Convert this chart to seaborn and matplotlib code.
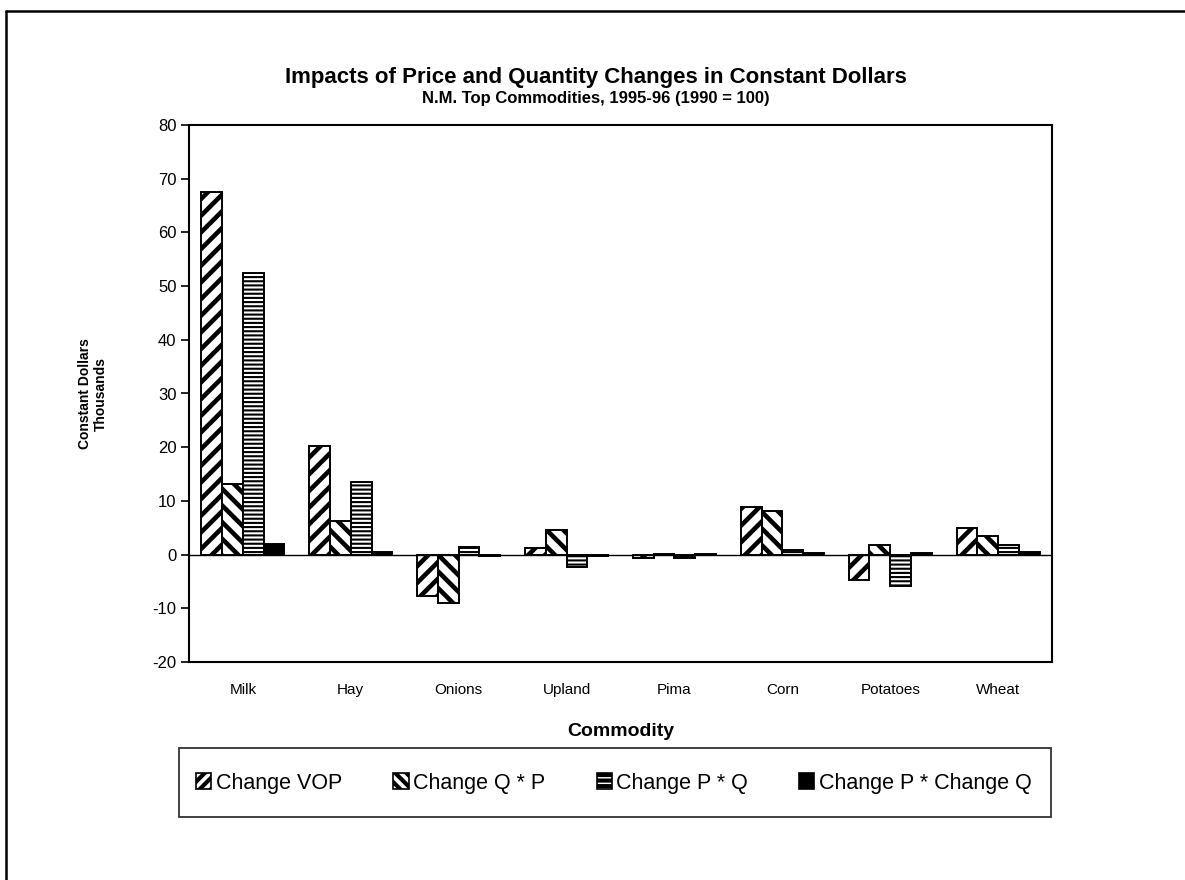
import matplotlib
matplotlib.use("Agg")
import matplotlib.pyplot as plt
import seaborn as sns
import pandas as pd
from matplotlib.patches import Patch, Rectangle
from matplotlib.lines import Line2D

commodities = ["Milk", "Hay", "Onions", "Upland", "Pima", "Corn", "Potatoes", "Wheat"]
series_names = ["Change VOP", "Change Q * P", "Change P * Q", "Change P * Change Q"]
change_vop = [67.5, 20.2, -7.8, 1.2, -0.7, 8.8, -4.8, 4.9]
change_qp = [13.1, 6.2, -9.1, 4.5, 0.1, 8.1, 1.8, 3.4]
change_pq = [52.5, 13.6, 1.5, -2.4, -0.7, 0.8, -5.8, 1.7]
change_pcq = [2.0, 0.4, -0.3, -0.3, 0.05, 0.3, 0.3, 0.5]
yticks = [-20, -10, 0, 10, 20, 30, 40, 50, 60, 70, 80]

rows = []
for name, vals in zip(series_names, [change_vop, change_qp, change_pq, change_pcq]):
    for c, v in zip(commodities, vals):
        rows.append({"Commodity": c, "Value": v, "Series": name})
df = pd.DataFrame(rows)

sns.set_theme(style="white")
plt.rcParams["font.family"] = ["Liberation Sans", "DejaVu Sans"]
plt.rcParams["hatch.linewidth"] = 3.0
for k in ["text.color", "axes.labelcolor", "xtick.color", "ytick.color"]:
    plt.rcParams[k] = "black"

fig = plt.figure(figsize=(11.85, 8.8), dpi=100)
ax = fig.add_axes([189 / 1185, 1 - 662 / 880, (1052 - 189) / 1185, (662 - 125) / 880])

facecolors = ["white", "white", "white", "black"]
sns.barplot(data=df, x="Commodity", y="Value", hue="Series", order=commodities,
            hue_order=series_names, palette=facecolors, edgecolor="black",
            linewidth=1.4, width=0.77, saturation=1, legend=False, ax=ax)

hatches = ["//", "\\\\", "----", None]
hatch_lw = [3.3, 3.3, 1.5, 1.0]
for cont, h, hl in zip(ax.containers, hatches, hatch_lw):
    for p in cont.patches:
        if h:
            p.set_hatch(h)
            try:
                p.set_hatch_linewidth(hl)
            except Exception:
                pass

ax.axhline(0, color="black", linewidth=1.0, zorder=5)
ax.set_ylim(-20, 80)
ax.set_yticks(yticks)
ax.set_yticklabels([str(t) for t in yticks], fontsize=12)
ax.tick_params(axis="y", which="major", direction="out", length=6, width=1.2,
               color="black", left=True, pad=3)
ax.tick_params(axis="x", length=0, pad=15, labelsize=11)
for s in ax.spines.values():
    s.set_color("black")
    s.set_linewidth(1.5)
ax.set_xlabel("Commodity", fontsize=14, fontweight="bold", labelpad=19)
ax.set_ylabel("Constant Dollars\nThousands", fontsize=10, fontweight="bold", labelpad=32)

fig.text(0.503, 1 - 77 / 880, "Impacts of Price and Quantity Changes in Constant Dollars",
         ha="center", va="center", fontsize=16, fontweight="bold")
fig.text(0.503, 1 - 98 / 880, "N.M. Top Commodities, 1995-96 (1990 = 100)",
         ha="center", va="center", fontsize=12, fontweight="bold")

# legend box
fig.patches.append(Rectangle((179 / 1185, 1 - 817 / 880), (1051 - 179) / 1185, (817 - 748) / 880,
                             transform=fig.transFigure, facecolor="white", edgecolor="#333333",
                             linewidth=1.3, zorder=0))
handle_hatches = ["///", "\\\\\\", "---", None]
handles = []
for fc, h in zip(facecolors, handle_hatches):
    p = Patch(facecolor=fc, edgecolor="black", hatch=h, linewidth=1.2)
    try:
        p.set_hatch_linewidth(2.0 if h != "---" else 1.0)
    except Exception:
        pass
    handles.append(p)
leg = fig.legend(handles, series_names, loc="center", ncol=4,
                 bbox_to_anchor=(0.518, 1 - 783 / 880), frameon=False,
                 fontsize=15.5, handlelength=0.7, handleheight=0.7, handletextpad=0.2,
                 columnspacing=2.4)

# outer frame (left and top edges)
fig.add_artist(Line2D([6 / 1185, 6 / 1185], [0, 1 - 11 / 880], transform=fig.transFigure,
                      color="black", linewidth=1.8))
fig.add_artist(Line2D([6 / 1185, 1], [1 - 11 / 880, 1 - 11 / 880], transform=fig.transFigure,
                      color="black", linewidth=1.8))

fig.savefig("out.png", dpi=100, facecolor="white")
